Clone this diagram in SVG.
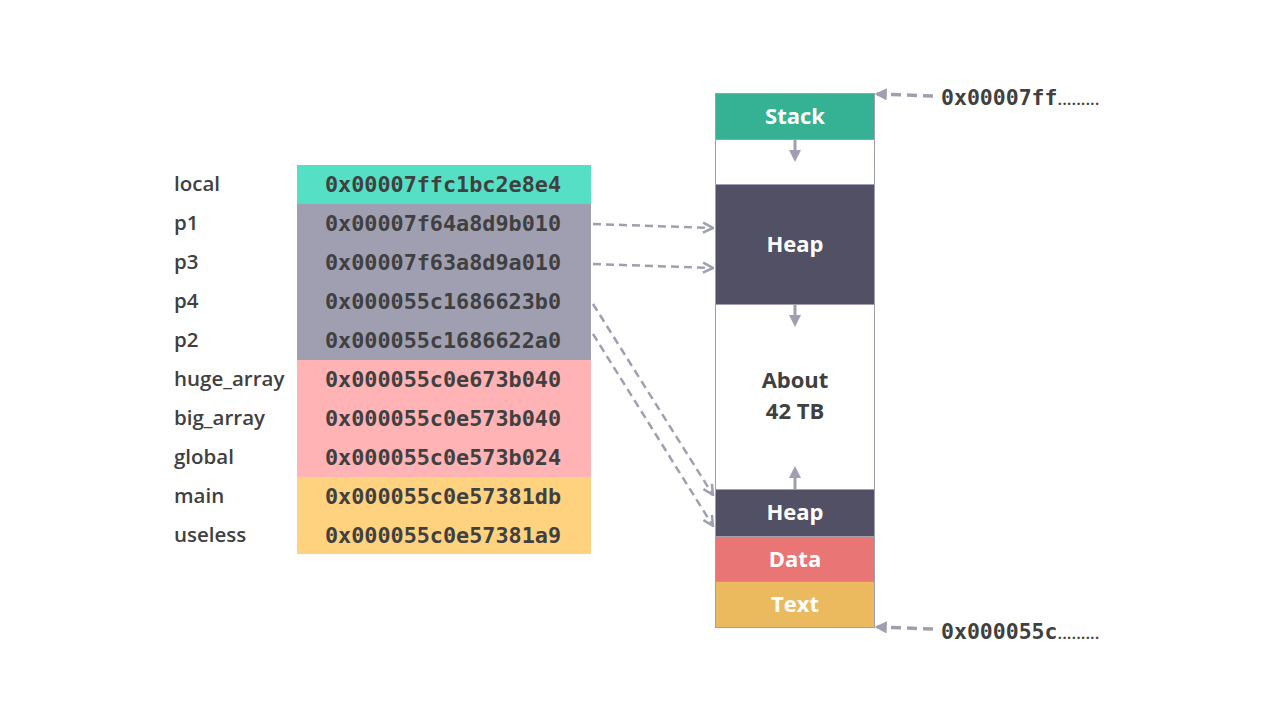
<svg xmlns="http://www.w3.org/2000/svg" width="1280" height="720" viewBox="0 0 1280 720">
<style>
.lbl{font-family:"Open Sans","Noto Sans",sans-serif;font-weight:600;font-size:20.5px;fill:#404040}
.addr{font-family:"DejaVu Sans Mono",monospace;font-weight:bold;font-size:21.8px;fill:#404040;text-anchor:middle}
.seg{font-family:"Open Sans","Noto Sans",sans-serif;font-weight:bold;font-size:22px;fill:#fff;text-anchor:middle}
.dark{fill:#404040}
.conn{stroke:#A09FB1;stroke-width:2.5;fill:none;stroke-dasharray:8,5}
.conn2{stroke:#A09FB1;stroke-width:3.5;fill:none;stroke-dasharray:10,6}
.grow{stroke:#A09FB1;stroke-width:3;fill:none}
.box{stroke:#A09FB1;stroke-width:1}
.dots{font-family:"Open Sans",sans-serif;font-weight:600;font-size:17px;fill:#404040}
</style>
<defs>
<marker id="ah" viewBox="0 0 10 10" refX="9" refY="5" markerWidth="5" markerHeight="5" orient="auto"><path d="M1,1 L9,5 L1,9" fill="none" stroke="#A09FB1" stroke-width="2"/></marker>
<marker id="tri" viewBox="0 0 10 10" refX="5" refY="5" markerWidth="4" markerHeight="4" orient="auto"><path d="M0,0 L10,5 L0,10 Z" fill="#A09FB1"/></marker>
<marker id="tri2" viewBox="0 0 10 10" refX="8" refY="5" markerWidth="3.5" markerHeight="3.5" orient="auto"><path d="M0,0 L10,5 L0,10 Z" fill="#A09FB1"/></marker>
</defs>
<rect width="1280" height="720" fill="#fff"/>
<g id="table">
<rect x="297" y="165" width="294" height="39" fill="#55E0C6"/>
<rect x="297" y="204" width="294" height="156" fill="#A09FB1"/>
<rect x="297" y="360" width="294" height="117" fill="#FFB3B5"/>
<rect x="297" y="477" width="294" height="77" fill="#FFD280"/>
</g>
<g id="labels">
<text class="lbl" x="174" y="191">local</text>
<text class="lbl" x="174" y="230">p1</text>
<text class="lbl" x="174" y="269">p3</text>
<text class="lbl" x="174" y="308">p4</text>
<text class="lbl" x="174" y="347">p2</text>
<text class="lbl" x="174" y="386">huge_array</text>
<text class="lbl" x="174" y="425">big_array</text>
<text class="lbl" x="174" y="464">global</text>
<text class="lbl" x="174" y="503">main</text>
<text class="lbl" x="174" y="542">useless</text>
</g>
<g id="addresses">
<text class="addr" x="443" y="192">0x00007ffc1bc2e8e4</text>
<text class="addr" x="443" y="231">0x00007f64a8d9b010</text>
<text class="addr" x="443" y="270">0x00007f63a8d9a010</text>
<text class="addr" x="443" y="309">0x000055c1686623b0</text>
<text class="addr" x="443" y="348">0x000055c1686622a0</text>
<text class="addr" x="443" y="387">0x000055c0e673b040</text>
<text class="addr" x="443" y="426">0x000055c0e573b040</text>
<text class="addr" x="443" y="465">0x000055c0e573b024</text>
<text class="addr" x="443" y="504">0x000055c0e57381db</text>
<text class="addr" x="443" y="543">0x000055c0e57381a9</text>
</g>
<g id="memory">
<g id="stack"><rect class="box" x="715.5" y="93.5" width="159" height="46" fill="#34B293"/><text class="seg" x="795" y="124">Stack</text></g>
<rect class="box" x="715.5" y="139.5" width="159" height="45" fill="#fff"/>
<g id="heap-top"><rect class="box" x="715.5" y="184.5" width="159" height="120" fill="#515064"/><text class="seg" x="795" y="252">Heap</text></g>
<g id="free"><rect class="box" x="715.5" y="304.5" width="159" height="185" fill="#fff"/><text class="seg dark" x="795" y="388">About</text><text class="seg dark" x="795" y="419">42 TB</text></g>
<g id="heap-bottom"><rect class="box" x="715.5" y="489.5" width="159" height="47" fill="#515064"/><text class="seg" x="795" y="520">Heap</text></g>
<g id="data"><rect class="box" x="715.5" y="536.5" width="159" height="45" fill="#E97575"/><text class="seg" x="795" y="567">Data</text></g>
<g id="text"><rect class="box" x="715.5" y="581.5" width="159" height="46" fill="#EBB95E"/><text class="seg" x="795" y="612">Text</text></g>
</g>
<g id="addr-labels">
<text x="941" y="105"><tspan class="addr" style="text-anchor:start;font-size:21.5px">0x00007ff</tspan><tspan class="dots">.........</tspan></text>
<text x="941" y="639"><tspan class="addr" style="text-anchor:start;font-size:21.5px">0x000055c</tspan><tspan class="dots">.........</tspan></text>
</g>
<g id="connectors">
<line class="grow" x1="795" y1="139" x2="795" y2="156" marker-end="url(#tri)"/>
<line class="grow" x1="795" y1="304" x2="795" y2="321" marker-end="url(#tri)"/>
<line class="grow" x1="795" y1="489" x2="795" y2="472" marker-end="url(#tri)"/>
<line class="conn" x1="593" y1="224" x2="713" y2="228" marker-end="url(#ah)"/>
<line class="conn" x1="593" y1="264" x2="713" y2="268" marker-end="url(#ah)"/>
<line class="conn" x1="593" y1="304" x2="713" y2="495" marker-end="url(#ah)"/>
<line class="conn" x1="593" y1="334" x2="713" y2="526" marker-end="url(#ah)"/>
<line class="conn2" x1="933" y1="96" x2="877" y2="94" marker-end="url(#tri2)"/>
<line class="conn2" x1="933" y1="629" x2="877" y2="627" marker-end="url(#tri2)"/>
</g>
</svg>
